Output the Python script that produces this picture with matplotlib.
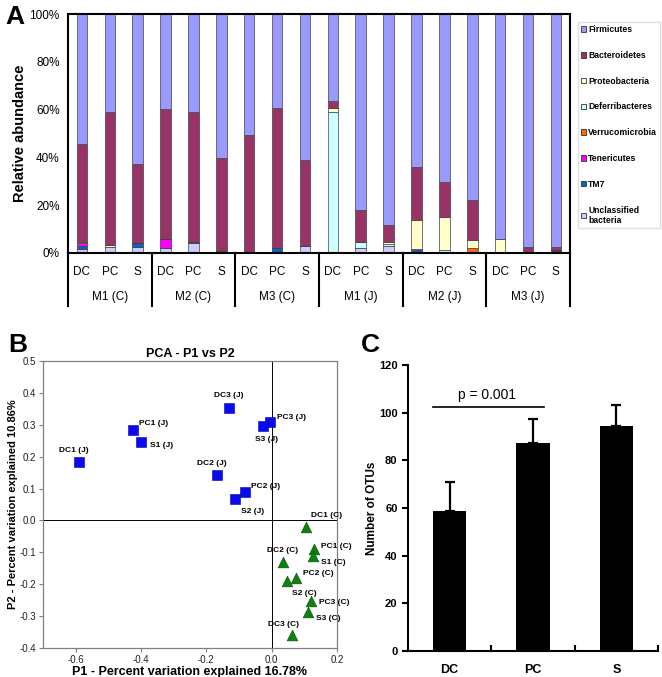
import matplotlib
matplotlib.use("Agg")
import matplotlib.pyplot as plt
from matplotlib.patches import Patch
from matplotlib.lines import Line2D

plt.rcParams["font.family"] = ["Liberation Sans", "DejaVu Sans"]

# ---- panel A: relative abundance per sample (bottom -> top stacking) ----
sites = ["DC", "PC", "S"] * 6
mice = ["M1 (C)", "M2 (C)", "M3 (C)", "M1 (J)", "M2 (J)", "M3 (J)"]

phyla = ["Unclassified\nbacteria", "TM7", "Tenericutes", "Verrucomicrobia",
         "Deferribacteres", "Proteobacteria", "Bacteroidetes", "Firmicutes"]
phylum_colors = ["#CCCCFF", "#0066CC", "#FF00FF", "#FF6600",
                 "#CCFFFF", "#FFFFCC", "#993366", "#9999FF"]

unclassified = [1.5, 2.3, 2.5, 2.0, 4.2, 0.3, 0.2, 0.3, 2.8,
                0.0, 2.0, 2.8, 1.0, 0.0, 0.0, 0.0, 0.0, 1.0]
tm7 = [1.5, 0.0, 1.5, 0.0, 0.3, 0.0, 0.3, 1.8, 0.0,
       0.0, 0.0, 0.0, 0.8, 0.5, 0.5, 0.3, 0.3, 0.0]
tenericutes = [1.3, 0.0, 0.0, 3.8, 0.0, 0.0, 0.0, 0.0, 0.0,
               0.0, 0.0, 0.0, 0.0, 0.0, 0.0, 0.0, 0.0, 0.4]
verrucomicrobia = [0.0, 0.0, 0.0, 0.0, 0.0, 0.0, 0.0, 0.0, 0.0,
                   0.0, 0.0, 0.0, 0.0, 0.0, 1.7, 0.0, 0.0, 0.0]
deferribacteres = [0.0, 0.0, 0.0, 0.0, 0.0, 0.0, 0.0, 0.0, 0.0,
                   58.8, 2.4, 1.1, 0.0, 0.8, 0.0, 0.0, 0.0, 0.0]
proteobacteria = [0.2, 1.0, 0.0, 0.0, 0.0, 0.7, 0.0, 0.0, 0.0,
                  1.8, 0.0, 0.5, 12.1, 13.7, 3.1, 5.5, 0.0, 0.0]
bacteroidetes = [41.0, 55.6, 33.2, 54.5, 54.3, 38.7, 48.8, 58.6, 36.1,
                 2.9, 13.7, 7.4, 22.0, 14.7, 16.7, 0.2, 2.0, 1.3]
firmicutes = [54.5, 41.1, 62.8, 39.7, 41.2, 60.3, 50.7, 39.3, 61.1,
              36.5, 81.9, 88.2, 64.1, 70.3, 78.0, 94.0, 97.7, 97.3]

# ---- panel B: PCA coordinates ----
j_labels = ["DC1 (J)", "PC1 (J)", "S1 (J)", "DC2 (J)", "PC2 (J)", "S2 (J)",
            "DC3 (J)", "PC3 (J)", "S3 (J)"]
j_p1 = [-0.589, -0.423, -0.399, -0.166, -0.081, -0.112, -0.132, -0.005, -0.025]
j_p2 = [0.183, 0.285, 0.245, 0.143, 0.089, 0.066, 0.353, 0.310, 0.296]

c_labels = ["DC1 (C)", "PC1 (C)", "S1 (C)", "DC2 (C)", "PC2 (C)", "S2 (C)",
            "DC3 (C)", "PC3 (C)", "S3 (C)"]
c_p1 = [0.104, 0.131, 0.126, 0.034, 0.075, 0.046, 0.062, 0.121, 0.111]
c_p2 = [-0.019, -0.089, -0.113, -0.130, -0.180, -0.190, -0.360, -0.254, -0.287]

# ---- panel C: OTU counts ----
otu_sites = ["DC", "PC", "S"]
otu_mean = [58.8, 87.4, 94.2]
otu_sd = [12.0, 9.8, 9.0]

# label offsets (points) for the PCA annotations
j_offsets = [(-4, 8), (4, 4), (6, -2), (-4, 8), (4, 4), (4, -9),
             (0, 9), (5, 3), (2, -10)]
c_offsets = [(4, 8), (5, 2), (6, -4), (0, 8), (5, 3), (4, -9),
             (-6, 8), (6, -1), (6, -5)]


def panel_a(fig):
    ax = fig.add_axes([0.1027, 0.6263, 0.758, 0.353])
    x = list(range(len(sites)))
    stacks = [unclassified, tm7, tenericutes, verrucomicrobia,
              deferribacteres, proteobacteria, bacteroidetes, firmicutes]
    bottom = [0.0] * len(x)
    for vals, col in zip(stacks, phylum_colors):
        ax.bar(x, vals, 0.38, bottom=bottom, color=col,
               edgecolor="#404040", linewidth=0.5)
        bottom = [b + v for b, v in zip(bottom, vals)]
    ax.set_xlim(-0.5, 17.5)
    ax.set_ylim(0, 100)
    ax.set_yticks([0, 20, 40, 60, 80, 100])
    ax.set_yticklabels([f"{v}%" for v in [0, 20, 40, 60, 80, 100]], fontsize=8.5)
    ax.tick_params(axis="y", length=0, pad=6)
    ax.set_xticks([])
    for s in ax.spines.values():
        s.set_linewidth(1.5)
    ax.set_ylabel("Relative abundance", fontsize=10.5, fontweight="bold",
                  labelpad=2)

    # category box underneath
    tr = ax.get_xaxis_transform()
    for i, s in enumerate(sites):
        ax.text(i, -0.079, s, transform=tr, ha="center", va="center",
                fontsize=8.5)
    for g, m in enumerate(mice):
        ax.text(g * 3 + 1, -0.184, m, transform=tr, ha="center",
                va="center", fontsize=8.5)
    for g in range(7):
        ax.add_line(Line2D([g * 3 - 0.5] * 2, [0, -0.22], transform=tr,
                           color="black", lw=1.5, clip_on=False))

    handles = [Patch(facecolor=c, edgecolor="#333333", linewidth=0.6)
               for c in phylum_colors[::-1]]
    leg = fig.legend(handles, phyla[::-1], loc="upper left",
                     bbox_to_anchor=(0.873, 0.9675), borderaxespad=0,
                     fontsize=6.2, frameon=True, fancybox=False,
                     edgecolor="#D8D8D8", handlelength=0.6, handleheight=0.6,
                     handletextpad=0.25, labelspacing=1.95, borderpad=0.35)
    for t in leg.get_texts():
        t.set_fontweight("bold")
    fig.text(0.008, 0.993, "A", fontsize=19, fontweight="bold", va="top")


def panel_b(fig):
    ax = fig.add_axes([0.065, 0.0428, 0.444, 0.424])
    ax.axhline(0, color="black", lw=0.7, zorder=1)
    ax.axvline(0, color="black", lw=0.7, zorder=1)
    ax.scatter(j_p1, j_p2, marker="s", s=48, color="#0A0AF0",
               edgecolor="#0000A0", linewidth=0.4, zorder=3)
    ax.scatter(c_p1, c_p2, marker="^", s=60, color="#108010",
               edgecolor="#005000", linewidth=0.4, zorder=3)
    for lab, px, py, off in zip(j_labels, j_p1, j_p2, j_offsets):
        ax.annotate(lab, (px, py), xytext=off, textcoords="offset points",
                    fontsize=6, fontweight="bold", ha="left" if off[0] > 2 else "center",
                    va="center")
    for lab, px, py, off in zip(c_labels, c_p1, c_p2, c_offsets):
        ax.annotate(lab, (px, py), xytext=off, textcoords="offset points",
                    fontsize=6, fontweight="bold", ha="left" if off[0] > 2 else "center",
                    va="center", annotation_clip=False)
    ax.set_xlim(-0.7, 0.2)
    ax.set_ylim(-0.4, 0.5)
    ax.set_xticks([-0.6, -0.4, -0.2, 0.0, 0.2])
    ax.set_yticks([-0.4, -0.3, -0.2, -0.1, 0.0, 0.1, 0.2, 0.3, 0.4, 0.5])
    ax.xaxis.set_major_formatter(plt.FormatStrFormatter("%.1f"))
    ax.yaxis.set_major_formatter(plt.FormatStrFormatter("%.1f"))
    ax.tick_params(labelsize=7, length=3, color="#808080",
                   labelcolor="#202020", pad=2)
    for s in ax.spines.values():
        s.set_color("#808080")
        s.set_linewidth(0.9)
    ax.set_title("PCA - P1 vs P2", fontsize=9, fontweight="bold", pad=3)
    ax.set_xlabel("P1 - Percent variation explained 16.78%", fontsize=9,
                  fontweight="bold", labelpad=1)
    ax.set_ylabel("P2 - Percent variation explained 10.86%", fontsize=8,
                  fontweight="bold", labelpad=1)
    fig.text(0.012, 0.508, "B", fontsize=19, fontweight="bold", va="top")


def panel_c(fig):
    ax = fig.add_axes([0.6163, 0.0384, 0.3777, 0.4225])
    x = list(range(len(otu_sites)))
    ax.bar(x, otu_mean, 0.4, color="black", zorder=2)
    ax.errorbar(x, otu_mean, yerr=[[0] * 3, otu_sd], fmt="none",
                ecolor="black", elinewidth=1.6, capsize=3.5, capthick=1.6,
                zorder=1)
    ax.plot([-0.2, 1.13], [102.5, 102.5], color="black", lw=1.2)
    ax.text(0.45, 107.5, "p = 0.001", ha="center", va="center", fontsize=10)
    ax.set_xlim(-0.5, 2.5)
    ax.set_ylim(0, 120)
    ax.set_yticks(range(0, 121, 20))
    ax.set_xticks([0.5, 1.5, 2.5])
    ax.set_xticklabels([])
    ax.tick_params(axis="x", direction="in", length=4, width=1.5)
    ax.tick_params(axis="y", direction="out", length=4, width=1.5,
                   labelsize=8)
    for t in ax.get_yticklabels():
        t.set_fontweight("bold")
    tr = ax.get_xaxis_transform()
    for i, s in enumerate(otu_sites):
        ax.text(i, -0.065, s, transform=tr, ha="center", va="center",
                fontsize=9, fontweight="bold")
    ax.spines["top"].set_visible(False)
    ax.spines["right"].set_visible(False)
    ax.spines["left"].set_linewidth(1.5)
    ax.spines["bottom"].set_linewidth(1.5)
    ax.set_ylabel("Number of OTUs", fontsize=8.5, fontweight="bold",
                  labelpad=1)
    fig.text(0.545, 0.508, "C", fontsize=19, fontweight="bold", va="top")


def main():
    fig = plt.figure(figsize=(6.62, 6.77), dpi=100)
    panel_a(fig)
    panel_b(fig)
    panel_c(fig)
    fig.savefig("out.png", dpi=100)
    plt.close(fig)


if __name__ == "__main__":
    main()
